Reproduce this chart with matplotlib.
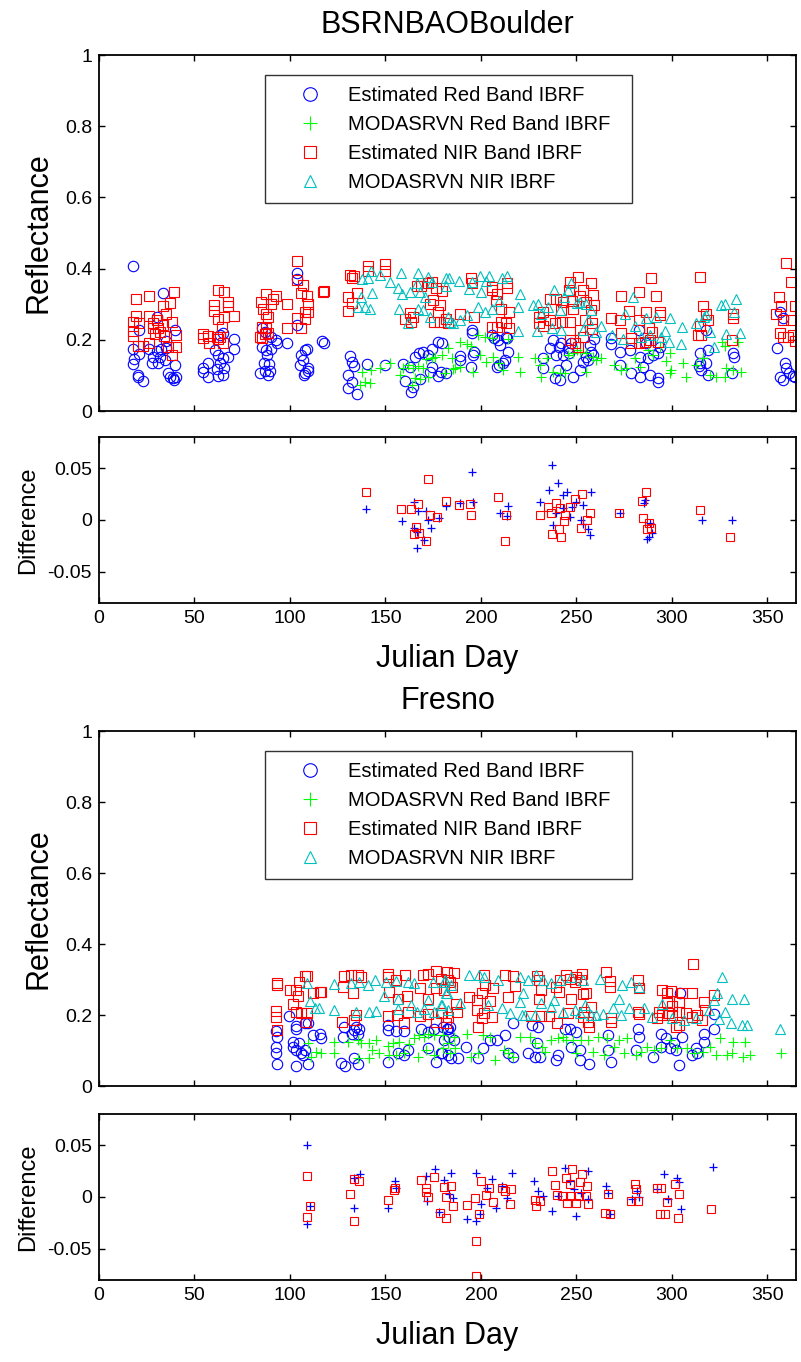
import matplotlib
matplotlib.use('Agg')
import matplotlib.pyplot as plt
import numpy as np

plt.rcParams['font.family'] = ['Liberation Sans', 'DejaVu Sans']

# ---------------- BSRNBAOBoulder ----------------
# Estimated Red Band IBRF (day, value)
boulder_est_red = [
    (17.6, 0.408), (33.7, 0.331), (30.2, 0.263), (20.8, 0.229), (39.8, 0.228), (35.0, 0.197), (17.6, 0.174),
    (26.0, 0.173), (30.2, 0.168), (32.3, 0.173), (35.1, 0.176), (21.1, 0.160), (28.4, 0.153), (32.0, 0.151),
    (34.6, 0.143), (18.3, 0.145), (17.6, 0.132), (27.6, 0.134), (31.1, 0.134), (39.8, 0.129), (20.2, 0.101),
    (20.6, 0.096), (22.9, 0.085), (36.3, 0.106), (38.6, 0.092), (40.3, 0.096), (39.3, 0.087), (37.2, 0.096),
    (54.6, 0.120), (57.2, 0.134), (54.6, 0.110), (57.2, 0.096), (60.7, 0.171), (62.5, 0.157), (65.1, 0.148),
    (67.4, 0.153), (63.4, 0.134), (61.6, 0.117), (65.6, 0.120), (62.5, 0.098), (65.1, 0.101), (70.9, 0.201),
    (70.9, 0.173), (65.1, 0.218), (63.4, 0.213),
    (85.2, 0.232), (86.9, 0.223), (89.9, 0.209), (92.6, 0.199), (93.0, 0.192), (85.2, 0.179), (87.3, 0.171),
    (89.9, 0.173), (88.1, 0.157), (86.6, 0.136), (89.0, 0.132), (84.3, 0.108), (86.9, 0.112), (89.5, 0.112),
    (88.3, 0.101), (98.6, 0.192), (103.5, 0.242), (103.5, 0.387), (103.5, 0.370), (106.0, 0.157), (107.8, 0.171),
    (108.7, 0.173), (105.2, 0.129), (107.0, 0.143), (109.3, 0.120), (107.8, 0.108), (109.6, 0.112), (107.5, 0.101),
    (116.9, 0.198), (118.0, 0.192),
    (131.4, 0.155), (132.7, 0.139), (133.8, 0.127), (130.5, 0.101), (132.3, 0.082), (130.2, 0.064), (134.9, 0.048),
    (140.5, 0.132), (149.7, 0.129), (159.3, 0.132), (162.8, 0.125), (160.2, 0.085), (163.4, 0.054), (165.4, 0.153),
    (167.6, 0.162), (169.8, 0.165), (172.4, 0.157), (174.5, 0.173), (177.7, 0.195), (179.4, 0.190), (174.2, 0.123),
    (173.3, 0.110), (179.1, 0.110), (177.7, 0.098), (182.0, 0.106), (168.1, 0.089), (164.6, 0.068),
    (189.3, 0.155), (189.0, 0.143), (196.0, 0.157), (196.5, 0.167), (195.4, 0.228), (195.4, 0.220), (205.6, 0.213),
    (206.8, 0.204), (209.0, 0.199), (209.9, 0.185), (213.4, 0.209), (213.9, 0.204), (214.3, 0.167), (212.5, 0.143),
    (211.7, 0.134), (209.6, 0.129), (208.2, 0.125), (195.1, 0.125), (232.6, 0.148), (232.6, 0.120), (236.1, 0.176),
    (237.8, 0.199), (239.6, 0.157), (241.0, 0.181), (242.2, 0.190), (243.1, 0.157), (240.5, 0.115), (241.3, 0.087),
    (238.7, 0.092), (245.7, 0.176), (246.2, 0.162), (247.4, 0.190), (244.8, 0.129), (248.3, 0.095), (251.8, 0.115),
    (253.5, 0.139), (255.3, 0.153), (256.2, 0.143), (257.9, 0.167), (258.8, 0.157), (259.3, 0.201), (257.0, 0.185),
    (268.4, 0.204), (268.4, 0.188), (272.7, 0.167), (277.9, 0.171), (283.2, 0.153), (282.9, 0.228), (286.7, 0.190),
    (287.6, 0.148), (290.2, 0.157), (292.8, 0.162), (293.7, 0.181), (272.7, 0.129), (278.5, 0.108), (283.6, 0.095),
    (285.0, 0.125), (288.5, 0.101), (292.8, 0.092), (292.8, 0.082), (314.6, 0.162), (314.6, 0.134), (315.2, 0.115),
    (314.3, 0.126), (318.1, 0.136), (319.0, 0.171), (318.1, 0.229), (319.0, 0.101), (332.1, 0.162), (332.4, 0.153),
    (331.7, 0.108), (355.1, 0.176), (356.5, 0.279), (358.2, 0.260), (359.1, 0.134), (360.0, 0.120), (356.5, 0.096),
    (358.2, 0.087), (361.4, 0.106), (363.5, 0.098), (364.8, 0.095),
]

# MODASRVN Red Band IBRF
boulder_mod_red = [
    (136.6, 0.073), (139.3, 0.082), (141.9, 0.078), (137.5, 0.110), (142.7, 0.115), (147.1, 0.120), (152.3, 0.134),
    (157.6, 0.101), (159.3, 0.120), (162.0, 0.129), (164.6, 0.120), (167.2, 0.126), (169.8, 0.120), (165.4, 0.092),
    (168.1, 0.089), (171.5, 0.145), (174.2, 0.148), (175.9, 0.153), (179.4, 0.157), (182.9, 0.176), (184.7, 0.148),
    (185.5, 0.117), (181.2, 0.106), (172.4, 0.096), (163.7, 0.073),
    (189.0, 0.195), (192.5, 0.188), (195.1, 0.183), (198.6, 0.213), (202.1, 0.209), (205.6, 0.204), (214.3, 0.201),
    (186.4, 0.120), (189.0, 0.125), (196.0, 0.110), (199.4, 0.157), (202.9, 0.139), (206.4, 0.153), (209.6, 0.134),
    (211.7, 0.115), (219.5, 0.153), (220.4, 0.110), (228.2, 0.148), (230.9, 0.129), (231.7, 0.096), (234.4, 0.148),
    (237.8, 0.110), (241.3, 0.106), (244.0, 0.106), (245.7, 0.157), (248.3, 0.162), (250.1, 0.171), (251.8, 0.167),
    (255.3, 0.162), (258.8, 0.153), (260.5, 0.143), (263.1, 0.148), (255.3, 0.110), (269.6, 0.129), (273.6, 0.115),
    (276.2, 0.120), (280.6, 0.148), (283.2, 0.125), (287.6, 0.171), (290.2, 0.157), (293.7, 0.181), (297.2, 0.141),
    (298.9, 0.162), (299.8, 0.115), (298.9, 0.108), (305.9, 0.136), (307.3, 0.096), (312.9, 0.129), (316.4, 0.148),
    (319.9, 0.101), (323.4, 0.095), (327.7, 0.096), (328.6, 0.120), (332.1, 0.115), (336.4, 0.110), (334.7, 0.195),
    (327.7, 0.183), (326.5, 0.195),
]

# Estimated NIR Band IBRF
boulder_est_nir = [
    (19.4, 0.314), (26.2, 0.323), (39.4, 0.335), (37.2, 0.304), (33.7, 0.296), (19.2, 0.267), (26.2, 0.268),
    (35.3, 0.272), (30.2, 0.256), (38.1, 0.250), (17.6, 0.250), (21.1, 0.246), (28.4, 0.248), (33.7, 0.243),
    (17.6, 0.226), (28.4, 0.232), (31.0, 0.232), (29.3, 0.216), (32.0, 0.223), (17.6, 0.211), (40.3, 0.213),
    (26.3, 0.192), (20.2, 0.183), (22.9, 0.183), (36.3, 0.179), (40.3, 0.179), (38.1, 0.157), (34.1, 0.211),
    (62.5, 0.340), (65.6, 0.335), (67.4, 0.307), (67.4, 0.295), (60.4, 0.298), (60.4, 0.282), (62.5, 0.258),
    (65.6, 0.265), (70.9, 0.267), (64.6, 0.235), (54.6, 0.216), (54.6, 0.204), (57.2, 0.211), (61.6, 0.209),
    (63.4, 0.207), (62.2, 0.201), (65.1, 0.192), (57.8, 0.192),
    (87.3, 0.328), (92.6, 0.323), (91.3, 0.314), (84.8, 0.305), (89.9, 0.302), (85.7, 0.286), (87.3, 0.274),
    (88.7, 0.265), (98.6, 0.301), (85.2, 0.237), (87.3, 0.232), (88.7, 0.218), (86.9, 0.216), (85.2, 0.204),
    (84.3, 0.209), (98.3, 0.232), (103.5, 0.422), (103.5, 0.367), (107.0, 0.354), (105.8, 0.332), (108.7, 0.323),
    (109.6, 0.301), (107.8, 0.279), (109.3, 0.279), (103.5, 0.262), (107.8, 0.258), (106.0, 0.232), (117.1, 0.335),
    (118.0, 0.338),
    (131.4, 0.382), (132.3, 0.375), (133.7, 0.378), (140.7, 0.407), (140.7, 0.394), (149.7, 0.413), (149.7, 0.392),
    (134.9, 0.332), (130.5, 0.319), (132.3, 0.304), (130.5, 0.282), (162.8, 0.276), (164.6, 0.263), (160.2, 0.258),
    (163.4, 0.251), (166.8, 0.352), (168.9, 0.352), (172.4, 0.360), (174.5, 0.363), (176.7, 0.347), (179.4, 0.338),
    (173.3, 0.300), (175.0, 0.312), (178.5, 0.298), (177.7, 0.279), (175.6, 0.251), (182.0, 0.258), (178.5, 0.251),
    (182.9, 0.248),
    (195.1, 0.373), (195.6, 0.360), (206.1, 0.349), (206.1, 0.340), (213.9, 0.359), (213.9, 0.345), (208.5, 0.329),
    (207.8, 0.310), (210.4, 0.287), (214.8, 0.279), (196.3, 0.265), (189.3, 0.272), (206.1, 0.235), (208.5, 0.235),
    (210.8, 0.251), (213.1, 0.248), (214.8, 0.232),
    (250.9, 0.377), (246.6, 0.363), (257.6, 0.359), (246.2, 0.340), (253.5, 0.340), (258.8, 0.326), (251.8, 0.323),
    (236.4, 0.314), (239.6, 0.314), (243.1, 0.307), (248.0, 0.310), (255.3, 0.307), (259.1, 0.298), (232.3, 0.279),
    (242.2, 0.284), (248.3, 0.286), (257.6, 0.284), (230.5, 0.263), (236.1, 0.256), (230.5, 0.248), (238.7, 0.246),
    (242.7, 0.251), (246.6, 0.251), (254.4, 0.256), (258.4, 0.246), (232.6, 0.239), (251.8, 0.228), (258.4, 0.230),
    (246.6, 0.199), (249.2, 0.190), (250.9, 0.179), (253.5, 0.209),
    (273.6, 0.323), (282.9, 0.335), (289.3, 0.373), (291.9, 0.323), (277.6, 0.282), (286.4, 0.279), (293.7, 0.279),
    (293.7, 0.270), (268.4, 0.260), (272.7, 0.256), (282.9, 0.256), (273.6, 0.218), (288.1, 0.232), (289.9, 0.223),
    (278.9, 0.204), (278.9, 0.190), (282.9, 0.190), (285.8, 0.195), (288.4, 0.199), (292.8, 0.195),
    (314.6, 0.377), (316.4, 0.295), (318.1, 0.272), (319.0, 0.256), (315.0, 0.239), (313.8, 0.213), (315.5, 0.213),
    (332.1, 0.272), (332.1, 0.260), (331.7, 0.199),
    (359.7, 0.417), (362.6, 0.363), (364.4, 0.295), (356.2, 0.319), (357.4, 0.295), (354.8, 0.274), (358.2, 0.257),
    (362.6, 0.256), (356.5, 0.220), (358.2, 0.209), (360.9, 0.209), (363.5, 0.213), (364.8, 0.198),
]

# MODASRVN NIR IBRF
boulder_mod_nir = [
    (137.5, 0.370), (140.7, 0.375), (142.4, 0.392), (147.1, 0.382), (152.3, 0.363), (158.1, 0.387), (167.2, 0.387),
    (172.4, 0.377), (174.2, 0.363), (182.0, 0.351), (182.0, 0.373), (143.1, 0.332), (137.0, 0.321), (156.8, 0.345),
    (158.9, 0.330), (162.8, 0.335), (168.1, 0.333), (170.7, 0.321), (135.4, 0.293), (139.3, 0.293), (142.2, 0.288),
    (157.1, 0.288), (167.2, 0.288), (169.8, 0.284), (173.3, 0.265), (161.9, 0.248), (182.9, 0.263), (183.8, 0.251),
    (166.3, 0.359),
    (183.4, 0.375), (188.6, 0.365), (193.9, 0.342), (195.6, 0.363), (199.8, 0.379), (204.3, 0.379), (211.3, 0.375),
    (213.9, 0.379), (202.9, 0.365), (200.3, 0.333), (220.4, 0.329), (209.6, 0.310), (219.2, 0.293), (205.6, 0.287),
    (202.1, 0.279), (198.6, 0.293), (192.5, 0.270), (189.3, 0.257), (185.5, 0.248), (219.5, 0.226), (227.4, 0.298),
    (230.0, 0.302), (231.7, 0.274), (235.2, 0.293), (238.2, 0.340), (241.3, 0.284), (243.4, 0.321), (245.7, 0.340),
    (247.4, 0.359), (250.1, 0.304), (251.8, 0.307), (255.3, 0.302), (257.9, 0.284), (229.5, 0.226), (237.5, 0.232),
    (242.2, 0.228), (253.5, 0.228), (256.2, 0.256), (263.1, 0.239), (260.5, 0.223), (268.9, 0.213), (274.5, 0.201),
    (275.4, 0.274), (279.7, 0.319), (280.6, 0.239), (284.1, 0.209), (286.7, 0.260), (288.4, 0.213), (291.6, 0.265),
    (294.6, 0.209), (296.3, 0.226), (298.9, 0.260), (298.6, 0.195), (305.0, 0.188), (305.5, 0.235), (312.5, 0.246),
    (320.2, 0.223), (321.9, 0.181), (326.0, 0.298), (327.7, 0.302), (328.6, 0.216), (332.4, 0.279), (333.8, 0.314),
    (335.6, 0.218), (316.7, 0.263), (318.1, 0.270),
]

# Difference, red band (blue +) and NIR band (red squares)
boulder_diff_red = [
    (139.7, 0.0103), (158.5, -0.001), (164.8, 0.0177), (167.1, 0.0087), (171.4, 0.0087), (172.5, 0.0),
    (173.7, -0.008), (177.9, 0.0016), (164.8, -0.008), (166.7, -0.012), (170.2, -0.019), (166.7, -0.027),
    (181.9, 0.0135), (195.3, 0.0458), (196.0, 0.0177), (188.9, 0.016), (214.1, 0.013), (210.1, 0.007),
    (213.6, 0.0039), (231.2, 0.0177), (237.1, 0.053), (240.6, 0.0355), (235.9, 0.0284), (243.0, 0.0242),
    (245.3, 0.0274), (257.7, 0.0265), (239.4, 0.0065), (243.0, 0.0113), (247.7, 0.0129), (250.0, 0.0177),
    (253.5, 0.0145), (246.5, 0.0032), (252.3, 0.0), (237.6, -0.0048), (253.5, -0.0039), (255.9, -0.009),
    (257.0, -0.0145), (272.8, 0.0065), (285.9, 0.0194), (285.2, 0.016), (288.7, -0.0032), (289.9, -0.0129),
    (288.3, -0.0168), (286.9, -0.0187), (315.7, 0.0), (331.5, 0.0),
]
boulder_diff_nir = [
    (139.7, 0.0265), (172.5, 0.0394), (158.0, 0.0106), (163.2, 0.0106), (167.1, 0.0155), (173.2, 0.0048),
    (177.2, 0.0032), (166.2, -0.007), (164.8, -0.0135), (167.8, -0.0123), (171.4, -0.020), (181.5, 0.0187),
    (188.3, 0.0145), (194.1, 0.0155), (194.8, 0.0048), (209.2, 0.0219), (213.1, 0.0048), (212.4, -0.020),
    (230.8, 0.0048), (235.2, 0.0129), (236.6, 0.0065), (239.4, 0.016), (241.3, 0.0113), (246.5, 0.0129),
    (249.3, 0.020), (253.1, 0.0252), (244.1, 0.0048), (243.7, -0.0006), (257.0, 0.0065), (255.4, 0.0),
    (252.3, -0.008), (241.1, -0.009), (237.1, -0.0135), (241.8, -0.0168), (272.3, 0.0065), (286.4, 0.0265),
    (284.5, 0.0187), (284.7, 0.0016), (288.3, -0.0026), (289.2, -0.008), (287.1, -0.009), (315.0, 0.0097),
    (330.5, -0.0168),
]

# ---------------- Fresno ----------------
fresno_est_red = [
    (99.5, 0.197), (92.9, 0.156), (93.4, 0.139), (92.5, 0.109), (92.5, 0.092), (93.4, 0.062), (101.6, 0.125),
    (101.6, 0.109), (103.3, 0.103), (103.3, 0.056), (103.3, 0.169), (103.3, 0.160), (107.7, 0.178), (109.4, 0.178),
    (106.8, 0.087), (108.0, 0.103), (109.4, 0.062), (105.9, 0.094), (105.0, 0.122), (112.0, 0.144), (116.0, 0.148),
    (116.4, 0.134), (128.2, 0.167), (127.7, 0.139), (126.8, 0.066), (128.6, 0.056), (133.8, 0.158), (134.7, 0.165),
    (136.4, 0.162), (132.4, 0.148), (135.5, 0.148), (133.4, 0.078), (135.5, 0.062), (151.2, 0.172), (151.2, 0.158),
    (155.5, 0.156), (159.9, 0.156), (151.2, 0.069), (156.4, 0.092), (159.9, 0.087), (161.7, 0.101), (168.6, 0.162),
    (172.1, 0.153), (175.6, 0.160), (180.0, 0.167), (182.6, 0.160), (172.1, 0.106), (176.5, 0.069), (179.1, 0.092),
    (182.6, 0.087), (184.3, 0.078), (180.8, 0.130), (183.5, 0.139),
    (182.3, 0.162), (184.0, 0.165), (185.8, 0.130), (179.7, 0.092), (187.8, 0.078), (192.2, 0.111), (198.3, 0.078),
    (200.9, 0.106), (204.9, 0.130), (208.3, 0.130), (212.7, 0.144), (217.0, 0.177), (214.4, 0.092), (217.0, 0.083),
    (224.8, 0.092), (226.6, 0.172), (230.1, 0.167), (229.2, 0.120), (228.3, 0.083), (231.0, 0.081), (239.6, 0.073),
    (240.4, 0.087), (243.9, 0.160), (246.5, 0.162), (250.0, 0.153), (247.4, 0.111), (251.7, 0.101), (251.7, 0.073),
    (256.9, 0.062), (266.5, 0.144), (268.2, 0.069), (266.5, 0.101), (282.1, 0.162), (283.0, 0.139), (281.4, 0.101),
    (290.1, 0.083), (294.3, 0.148), (297.0, 0.134), (294.3, 0.111), (298.9, 0.106), (301.2, 0.120), (302.1, 0.101),
    (305.5, 0.139), (304.2, 0.263), (303.8, 0.059), (312.5, 0.106), (313.4, 0.092), (316.9, 0.148), (316.9, 0.125),
    (322.1, 0.162), (322.1, 0.203), (310.8, 0.087),
]

fresno_mod_red = [
    (109.4, 0.120), (111.2, 0.083), (113.8, 0.097), (116.4, 0.092), (123.0, 0.094), (123.3, 0.125), (130.3, 0.125),
    (135.5, 0.130), (137.3, 0.120), (141.6, 0.120), (145.1, 0.131), (143.1, 0.101), (146.6, 0.094), (141.6, 0.078),
    (135.5, 0.078), (151.2, 0.113), (153.8, 0.120), (157.3, 0.125), (162.5, 0.118), (165.2, 0.134), (167.8, 0.144),
    (170.4, 0.139), (172.1, 0.148), (175.6, 0.144), (180.0, 0.144), (152.1, 0.087), (155.5, 0.087), (159.9, 0.092),
    (166.9, 0.083), (171.2, 0.101), (175.6, 0.087), (180.0, 0.106), (184.0, 0.092), (182.6, 0.120),
    (185.8, 0.139), (186.6, 0.106), (193.0, 0.148), (194.8, 0.083), (198.3, 0.092), (201.0, 0.144), (204.9, 0.139),
    (207.5, 0.073), (211.9, 0.101), (214.4, 0.092), (217.0, 0.083), (220.4, 0.139), (225.7, 0.139), (228.3, 0.120),
    (231.8, 0.111), (233.5, 0.097), (237.0, 0.130), (240.4, 0.134), (243.1, 0.139), (244.8, 0.130), (248.2, 0.130),
    (249.9, 0.092), (252.5, 0.130), (256.0, 0.130), (258.6, 0.097), (261.2, 0.139), (264.6, 0.087), (266.3, 0.134),
    (269.8, 0.111), (272.4, 0.130), (275.0, 0.092), (276.7, 0.134), (281.1, 0.087), (283.7, 0.097), (287.2, 0.111),
    (290.6, 0.101), (294.1, 0.106), (299.3, 0.130), (302.7, 0.106), (307.9, 0.106), (311.4, 0.092), (316.4, 0.097),
    (319.9, 0.111), (323.4, 0.087), (325.2, 0.134), (328.7, 0.087), (331.3, 0.092), (332.2, 0.125), (338.2, 0.125),
    (337.4, 0.083), (340.8, 0.087), (357.3, 0.092),
]

fresno_est_nir = [
    (93.2, 0.289), (93.2, 0.284), (92.5, 0.212), (92.5, 0.195), (93.4, 0.158), (100.3, 0.272), (103.3, 0.272),
    (105.0, 0.294), (107.7, 0.310), (109.1, 0.310), (104.2, 0.254), (101.6, 0.231), (103.3, 0.209), (106.0, 0.207),
    (109.1, 0.207), (108.5, 0.181), (112.0, 0.263), (115.5, 0.266), (116.4, 0.266), (128.2, 0.310), (132.1, 0.313),
    (135.5, 0.313), (137.3, 0.306), (127.7, 0.280), (132.9, 0.263), (127.2, 0.181), (133.8, 0.186), (134.7, 0.200),
    (151.2, 0.317), (151.2, 0.306), (155.5, 0.300), (160.3, 0.313), (152.1, 0.266), (156.4, 0.244), (161.3, 0.254),
    (151.2, 0.197), (156.1, 0.200), (161.7, 0.209), (160.0, 0.178), (168.3, 0.275), (169.5, 0.313), (172.1, 0.317),
    (176.5, 0.325), (176.5, 0.275), (172.1, 0.244), (179.1, 0.303), (182.2, 0.320), (182.6, 0.299), (168.3, 0.197),
    (172.1, 0.203), (176.5, 0.181), (179.1, 0.207), (182.6, 0.195), (181.7, 0.178),
    (185.8, 0.319), (185.0, 0.280), (180.6, 0.272), (184.0, 0.294), (197.9, 0.214), (201.4, 0.207), (197.9, 0.242),
    (193.6, 0.250), (200.5, 0.261), (204.9, 0.240), (201.4, 0.313), (202.3, 0.285), (206.6, 0.275), (212.7, 0.313),
    (217.0, 0.310), (217.9, 0.282), (214.4, 0.252), (205.6, 0.195), (200.5, 0.193), (187.2, 0.231), (187.5, 0.209),
    (179.7, 0.207), (198.3, 0.165), (229.5, 0.310), (230.4, 0.299), (231.3, 0.272), (230.4, 0.244), (226.1, 0.197),
    (231.3, 0.197), (235.6, 0.197), (240.0, 0.177), (240.9, 0.266), (239.1, 0.280), (241.3, 0.299), (244.8, 0.313),
    (246.5, 0.303), (249.1, 0.294), (253.1, 0.317), (252.6, 0.300), (250.0, 0.308), (247.4, 0.244), (253.5, 0.259),
    (255.2, 0.261), (257.8, 0.223), (253.5, 0.195), (256.1, 0.181), (256.6, 0.165), (254.0, 0.209), (245.7, 0.207),
    (265.6, 0.322), (267.4, 0.297), (267.4, 0.280), (268.2, 0.193), (268.2, 0.181), (282.1, 0.299), (283.0, 0.275),
    (295.1, 0.272), (297.7, 0.263), (299.5, 0.268), (297.7, 0.238), (300.3, 0.225), (303.8, 0.238), (305.2, 0.261),
    (310.4, 0.263), (311.1, 0.344), (293.4, 0.209), (292.5, 0.193), (295.1, 0.200), (298.2, 0.207), (300.3, 0.200),
    (303.8, 0.209), (307.3, 0.205), (310.8, 0.195), (313.4, 0.200), (316.9, 0.238), (317.4, 0.214), (322.1, 0.256),
    (316.0, 0.186), (303.8, 0.172), (302.1, 0.165), (282.1, 0.209), (283.0, 0.203),
]

fresno_mod_nir = [
    (109.1, 0.291), (110.3, 0.240), (112.9, 0.219), (115.0, 0.219), (123.3, 0.287), (123.0, 0.214), (132.1, 0.289),
    (136.4, 0.294), (140.8, 0.284), (144.6, 0.299), (134.7, 0.209), (141.6, 0.209), (145.1, 0.211), (150.3, 0.294),
    (155.5, 0.296), (161.7, 0.294), (165.2, 0.291), (156.4, 0.246), (149.5, 0.254), (156.8, 0.216), (163.4, 0.228),
    (166.6, 0.209), (170.4, 0.216), (175.6, 0.209), (179.1, 0.228), (182.6, 0.214), (172.1, 0.242), (181.7, 0.261),
    (184.3, 0.284), (174.7, 0.294), (180.5, 0.294),
    (181.4, 0.300), (182.3, 0.261), (179.7, 0.228), (188.9, 0.235), (193.6, 0.313), (198.8, 0.313), (201.4, 0.308),
    (209.2, 0.300), (220.5, 0.308), (224.8, 0.299), (228.8, 0.313), (232.6, 0.300), (236.9, 0.289), (241.3, 0.300),
    (247.4, 0.308), (253.5, 0.299), (262.2, 0.303), (274.0, 0.286), (278.6, 0.294), (283.0, 0.278), (204.0, 0.228),
    (211.0, 0.219), (215.5, 0.205), (222.3, 0.263), (220.5, 0.238), (221.4, 0.200), (223.1, 0.200), (228.3, 0.200),
    (231.3, 0.235), (236.6, 0.223), (238.4, 0.242), (243.1, 0.209), (249.1, 0.214), (251.7, 0.205), (254.3, 0.228),
    (257.8, 0.200), (260.4, 0.200), (263.9, 0.203), (269.1, 0.219), (272.6, 0.244), (273.4, 0.200), (277.7, 0.219),
    (285.5, 0.219), (289.9, 0.195), (295.1, 0.231), (300.3, 0.191), (306.4, 0.186), (312.5, 0.191), (319.4, 0.214),
    (323.8, 0.263), (322.1, 0.242), (326.4, 0.306), (327.8, 0.209), (324.7, 0.188), (330.8, 0.178), (331.3, 0.244),
    (337.7, 0.244), (336.8, 0.172), (339.4, 0.172), (356.8, 0.160),
]

fresno_diff_red = [
    (109.2, 0.0505), (110.3, -0.0086), (109.2, -0.0256), (133.8, 0.0185), (136.6, 0.0217), (133.8, -0.0109),
    (154.9, 0.0153), (155.4, 0.0083), (151.4, -0.0102), (171.4, 0.0201), (176.1, 0.0265), (180.8, 0.016),
    (184.3, 0.0233), (171.8, -0.0038), (177.9, -0.0141), (183.1, 0.0026), (185.4, -0.0006), (192.5, -0.0214),
    (197.7, -0.023), (197.2, 0.0233), (206.1, 0.0169), (200.0, -0.007), (199.5, -0.016), (203.1, 0.0089),
    (211.3, 0.0105), (213.6, -0.0006), (216.4, 0.0233), (207.7, -0.0102), (227.7, 0.0153), (230.0, 0.0058),
    (232.4, 0.001), (237.1, -0.0134), (244.1, 0.0281), (246.5, 0.0153), (248.8, 0.0073), (255.9, 0.0249),
    (240.6, 0.001), (250.0, -0.0182), (252.3, 0.0042), (255.9, -0.0022), (265.3, 0.0105), (266.4, 0.0042),
    (267.6, -0.0166), (279.3, -0.0022), (281.7, 0.0058), (282.9, 0.0), (292.3, 0.0073), (295.8, 0.0217),
    (298.1, -0.0022), (302.8, 0.0185), (304.0, 0.0147), (304.7, -0.0118), (321.6, 0.0288),
]
fresno_diff_nir = [
    (108.7, 0.0201), (110.3, -0.0086), (108.7, -0.0192), (131.5, 0.0032), (133.8, -0.023), (133.8, 0.0169),
    (136.2, 0.0153), (151.4, -0.0032), (154.5, 0.0064), (155.0, 0.0083), (168.5, 0.016), (171.4, 0.0089),
    (171.4, 0.0051), (172.5, 0.0), (175.6, 0.0192), (178.4, -0.015), (182.0, -0.0198), (180.8, 0.0096),
    (184.3, 0.0105), (182.0, 0.0), (185.4, -0.0086), (192.5, -0.0077), (196.7, -0.0013), (199.1, -0.016),
    (200.0, 0.0153), (204.2, 0.0083), (202.6, 0.0019), (206.6, -0.0045), (197.7, -0.0428), (197.7, -0.0757),
    (211.3, 0.0089), (212.4, 0.0058), (215.9, 0.008), (215.5, -0.0064), (228.2, -0.0032), (228.9, -0.0086),
    (231.2, -0.0038), (237.1, 0.0249), (238.7, 0.0115), (239.9, 0.0019), (243.0, 0.001), (244.6, 0.0179),
    (247.7, 0.0265), (253.1, 0.0217), (246.5, 0.0128), (251.9, 0.0147), (255.4, 0.0105), (246.5, 0.001),
    (251.3, 0.001), (254.9, 0.001), (245.3, -0.0054), (250.0, -0.0054), (256.3, -0.007), (264.8, -0.015),
    (267.6, -0.0166), (266.4, 0.0032), (278.9, -0.0038), (282.2, -0.0038), (280.5, 0.0121), (281.3, 0.0073),
    (292.3, 0.0083), (294.6, 0.0089), (301.6, 0.0128), (304.0, 0.0032), (293.9, -0.0166), (296.2, -0.0166),
    (303.1, -0.0198), (297.7, -0.0045), (320.4, -0.0118),
]

legend_labels = ['Estimated Red Band IBRF', 'MODASRVN Red Band IBRF',
                 'Estimated NIR Band IBRF', 'MODASRVN NIR IBRF']
x_ticks = [0, 50, 100, 150, 200, 250, 300, 350]

BIG = 22


def xy(points):
    arr = np.array(points)
    return arr[:, 0], arr[:, 1]


def style_axes(ax):
    for sp in ax.spines.values():
        sp.set_linewidth(1.3)
    ax.tick_params(direction='in', top=True, right=True, length=4, width=1, labelsize=14, pad=5)
    ax.set_xlim(0, 365)
    ax.set_xticks(x_ticks)


def reflectance_panel(ax, est_red, mod_red, est_nir, mod_nir):
    ax.plot(*xy(est_red), 'o', ls='none', mfc='none', mec='b', ms=7.5, mew=0.8)
    ax.plot(*xy(mod_red), '+', ls='none', color='#00ff00', ms=7.5, mew=0.8)
    ax.plot(*xy(est_nir), 's', ls='none', mfc='none', mec='r', ms=7, mew=0.8)
    ax.plot(*xy(mod_nir), '^', ls='none', mfc='none', mec='c', ms=7, mew=0.8)
    style_axes(ax)
    ax.set_ylim(0, 1)
    ax.set_yticks([0, 0.2, 0.4, 0.6, 0.8, 1])
    ax.set_yticklabels(['0', '0.2', '0.4', '0.6', '0.8', '1'])
    ax.set_xticklabels([])
    ax.set_ylabel('Reflectance', fontsize=BIG, labelpad=8)
    # legend box sits in the upper middle of the panel, like the MATLAB original
    leg = ax.legend(legend_labels, loc='upper left', bbox_to_anchor=(0.238, 0.944, 0.527, 0.0),
                    mode='expand', fontsize=14.5, frameon=True, fancybox=False, edgecolor='k',
                    handlelength=3.4, handletextpad=0.2, borderpad=0.55, labelspacing=0.5,
                    borderaxespad=0, markerscale=1.3)
    leg.get_frame().set_linewidth(1.0)


def difference_panel(ax, diff_red, diff_nir):
    ax.plot(*xy(diff_red), '+', ls='none', color='b', ms=6, mew=0.9)
    ax.plot(*xy(diff_nir), 's', ls='none', mfc='none', mec='r', ms=5.5, mew=0.8)
    style_axes(ax)
    ax.set_ylim(-0.08, 0.08)
    ax.set_yticks([-0.05, 0, 0.05])
    ax.set_yticklabels(['-0.05', '0', '0.05'])
    ax.set_ylabel('Difference', fontsize=17, labelpad=6)
    ax.set_xlabel('Julian Day', fontsize=BIG, labelpad=12)


fig = plt.figure(figsize=(8.01, 13.62), dpi=100)

ax1 = fig.add_axes([0.1236, 0.6982, 0.870, 0.2614])
ax2 = fig.add_axes([0.1236, 0.5573, 0.870, 0.1219])
ax3 = fig.add_axes([0.1236, 0.2026, 0.870, 0.2606])
ax4 = fig.add_axes([0.1236, 0.0602, 0.870, 0.1219])

reflectance_panel(ax1, boulder_est_red, boulder_mod_red, boulder_est_nir, boulder_mod_nir)
difference_panel(ax2, boulder_diff_red, boulder_diff_nir)
reflectance_panel(ax3, fresno_est_red, fresno_mod_red, fresno_est_nir, fresno_mod_nir)
difference_panel(ax4, fresno_diff_red, fresno_diff_nir)

ax1.set_title('BSRNBAOBoulder', fontsize=BIG, pad=16)
ax3.set_title('Fresno', fontsize=BIG, pad=16)

plt.savefig('out.png', dpi=100)
